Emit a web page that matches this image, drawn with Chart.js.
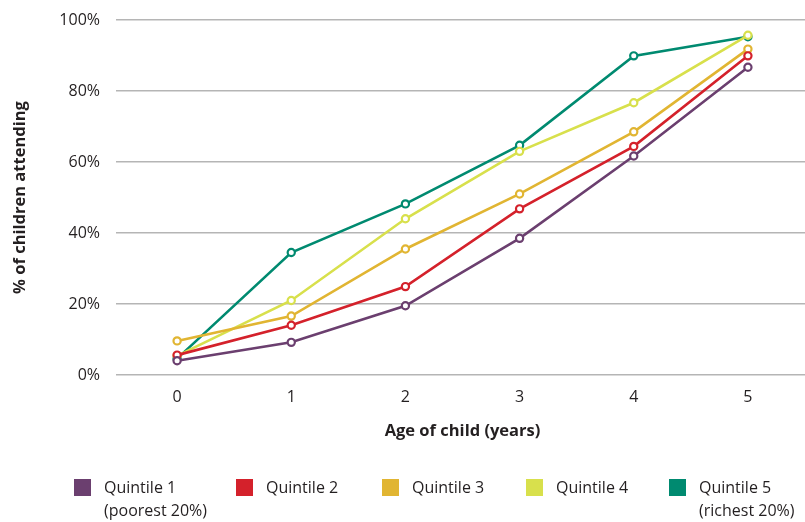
<!DOCTYPE html>
<html>
<head>
<meta charset="utf-8">
<script src="https://cdn.jsdelivr.net/npm/chart.js@4/dist/chart.umd.min.js"></script>
<style>
  html, body { margin: 0; padding: 0; background: #ffffff; }
  #wrap { position: relative; width: 805px; height: 522px; }
</style>
</head>
<body>
<div id="wrap"><canvas id="chart" width="805" height="522"></canvas></div>
<script>
// Ages on the horizontal axis
const ages = ['0', '1', '2', '3', '4', '5'];

// Share of children attending (%), by income quintile
const quintile1 = [4.0, 9.2, 19.5, 38.5, 61.7, 86.7];
const quintile2 = [5.6, 14.0, 24.9, 46.8, 64.4, 89.9];
const quintile3 = [9.6, 16.6, 35.5, 51.0, 68.5, 91.8];
const quintile4 = [5.4, 21.0, 44.0, 63.0, 76.7, 95.7];
const quintile5 = [4.6, 34.5, 48.2, 64.7, 89.9, 95.3];

const seriesNames = ['Quintile 1', 'Quintile 2', 'Quintile 3', 'Quintile 4', 'Quintile 5'];
const seriesNotes = ['(poorest 20%)', '', '', '', '(richest 20%)'];
const seriesColors = ['#6b3f6f', '#d4212b', '#e1b532', '#d8e04c', '#008a70'];

const yTicks = [0, 20, 40, 60, 80, 100];

const FONT = '"Open Sans", "Liberation Sans", sans-serif';
const TEXT = '#231f20';

const allSeries = [quintile1, quintile2, quintile3, quintile4, quintile5];

const datasets = allSeries.map((vals, i) => ({
  label: seriesNames[i],
  data: vals,
  borderColor: seriesColors[i],
  backgroundColor: '#ffffff',
  borderWidth: 2.6,
  pointRadius: 3.6,
  pointBorderWidth: 2.2,
  pointBackgroundColor: '#ffffff',
  pointBorderColor: seriesColors[i],
  tension: 0,
  fill: false
}));

// Legend under the plot: colour square, name, optional second line
const legendX = [74, 236, 382, 526, 669];
const bottomLegend = {
  id: 'bottomLegend',
  afterDraw(chart) {
    const ctx = chart.ctx;
    ctx.save();
    ctx.textBaseline = 'middle';
    ctx.textAlign = 'left';
    ctx.font = '16px ' + FONT;
    chart.data.datasets.forEach((ds, i) => {
      const x = legendX[i];
      ctx.fillStyle = ds.borderColor;
      ctx.fillRect(x, 479, 17, 17);
      ctx.fillStyle = TEXT;
      ctx.fillText(seriesNames[i], x + 30, 488);
      if (seriesNotes[i]) ctx.fillText(seriesNotes[i], x + 30, 511);
    });
    ctx.restore();
  }
};

new Chart(document.getElementById('chart'), {
  type: 'line',
  data: { labels: ages, datasets },
  plugins: [bottomLegend],
  options: {
    responsive: false,
    animation: false,
    layout: { autoPadding: false, padding: { top: 20, left: 0, right: 0, bottom: 80 } },
    plugins: {
      legend: { display: false },
      tooltip: { enabled: false }
    },
    scales: {
      x: {
        offset: true,
        grid: { display: false, drawTicks: false },
        border: { display: false },
        ticks: { color: TEXT, font: { family: FONT, size: 16 }, padding: 13 },
        title: {
          display: true,
          text: 'Age of child (years)',
          color: TEXT,
          font: { family: FONT, size: 16.5, weight: 'bold' },
          padding: { top: 0, bottom: 1 }
        },
        afterFit(scale) {
          scale.height = 67;
          scale.paddingLeft = 0;
          scale.paddingRight = 0;
        }
      },
      y: {
        min: 0,
        max: 100,
        afterBuildTicks(scale) { scale.ticks = yTicks.map(v => ({ value: v })); },
        grid: { color: '#b5b5b5', lineWidth: 1.5, drawTicks: true, tickLength: 4 },
        border: { display: false },
        ticks: {
          color: TEXT,
          font: { family: FONT, size: 16 },
          padding: 16,
          callback: v => v + '%'
        },
        title: {
          display: true,
          text: '% of children attending',
          color: TEXT,
          font: { family: FONT, size: 16.5, weight: 'bold' },
          padding: { top: 10, bottom: 0 }
        },
        afterFit(scale) {
          scale.width = 120;
          scale.paddingTop = 0;
          scale.paddingBottom = 0;
        }
      }
    }
  }
});
</script>
</body>
</html>
